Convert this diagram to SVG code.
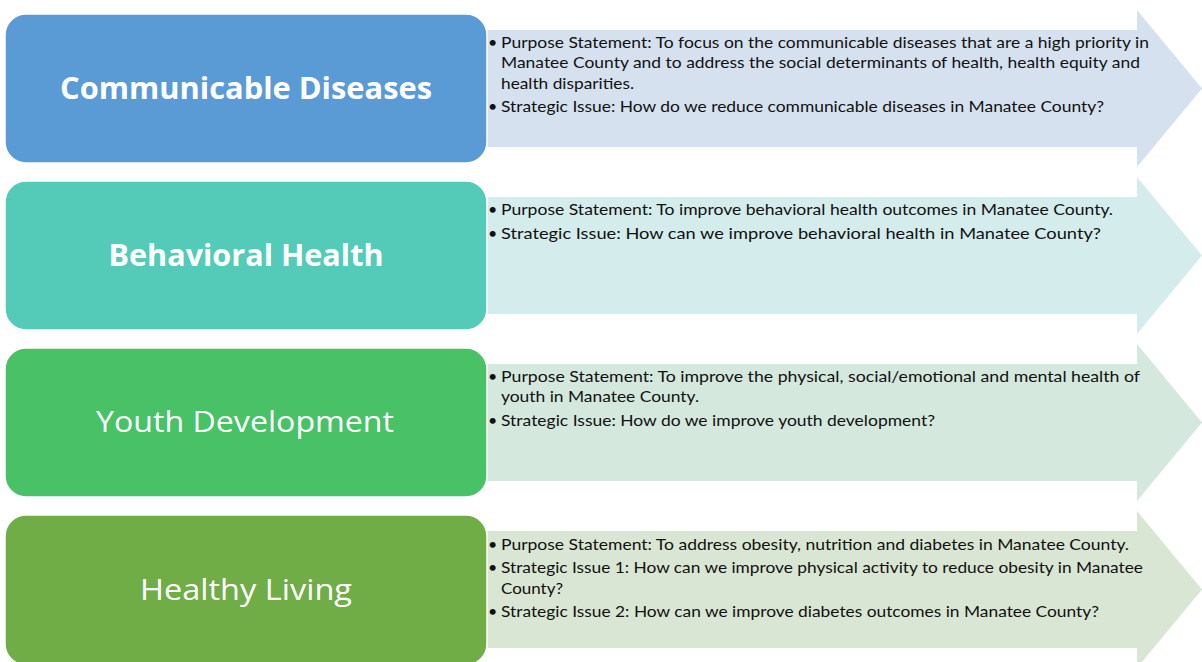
<svg xmlns="http://www.w3.org/2000/svg" width="1202" height="662" viewBox="0 0 1202 662">
<style>
.title{font-family:"Open Sans","Liberation Sans",sans-serif;font-size:30px;fill:#fff;text-anchor:middle}
.b{font-weight:bold}
.txt{font-family:Lato,"Liberation Sans",sans-serif;font-size:16px;fill:#111}
.box{stroke:#fff;stroke-width:1.5}
</style>
<rect width="1202" height="662" fill="#fff"/>
<g id="connectors">
<path d="M480 30 H1137 V10 L1202 88.5 L1137 167 V147 H480 Z" fill="#D6E1EF"/>
<path d="M480 197 H1137 V177 L1202 255.5 L1137 334 V314 H480 Z" fill="#D4ECEC"/>
<path d="M480 364 H1137 V344 L1202 422.5 L1137 501 V481 H480 Z" fill="#D5E8DE"/>
<path d="M480 531 H1137 V511 L1202 589.5 L1137 668 V648 H480 Z" fill="#DAE6D4"/>
</g>
<g id="node-communicable">
<rect class="box" x="5" y="14" width="482" height="149" rx="21" fill="#5B9BD5"/>
<text class="title b" x="246" y="99" textLength="372" lengthAdjust="spacingAndGlyphs">Communicable Diseases</text>
<text class="txt"><tspan x="488" y="48">•</tspan><tspan x="501" y="48" textLength="648" lengthAdjust="spacingAndGlyphs">Purpose Statement: To focus on the communicable diseases that are a high priority in</tspan></text>
<text class="txt" x="501" y="68" textLength="639" lengthAdjust="spacingAndGlyphs">Manatee County and to address the social determinants of health, health equity and</text>
<text class="txt" x="501" y="89" textLength="133" lengthAdjust="spacingAndGlyphs">health disparities.</text>
<text class="txt"><tspan x="488" y="112">•</tspan><tspan x="501" y="112" textLength="603" lengthAdjust="spacingAndGlyphs">Strategic Issue: How do we reduce communicable diseases in Manatee County?</tspan></text>
</g>
<g id="node-behavioral">
<rect class="box" x="5" y="181" width="482" height="149" rx="21" fill="#53CBB8"/>
<text class="title b" x="246" y="266" textLength="275" lengthAdjust="spacingAndGlyphs">Behavioral Health</text>
<text class="txt"><tspan x="488" y="215">•</tspan><tspan x="501" y="215" textLength="612" lengthAdjust="spacingAndGlyphs">Purpose Statement: To improve behavioral health outcomes in Manatee County.</tspan></text>
<text class="txt"><tspan x="488" y="239">•</tspan><tspan x="501" y="239" textLength="600" lengthAdjust="spacingAndGlyphs">Strategic Issue: How can we improve behavioral health in Manatee County?</tspan></text>
</g>
<g id="node-youth">
<rect class="box" x="5" y="348" width="482" height="149" rx="21" fill="#48C167"/>
<text class="title" x="245" y="432" textLength="298" lengthAdjust="spacingAndGlyphs">Youth Development</text>
<text class="txt"><tspan x="488" y="382">•</tspan><tspan x="501" y="382" textLength="639" lengthAdjust="spacingAndGlyphs">Purpose Statement: To improve the physical, social/emotional and mental  health of</tspan></text>
<text class="txt" x="501" y="402" textLength="198" lengthAdjust="spacingAndGlyphs">youth in Manatee County.</text>
<text class="txt"><tspan x="488" y="426">•</tspan><tspan x="501" y="426" textLength="434" lengthAdjust="spacingAndGlyphs">Strategic Issue: How do we improve youth development?</tspan></text>
</g>
<g id="node-healthy">
<rect class="box" x="5" y="515" width="482" height="150" rx="21" fill="#70AD47"/>
<text class="title" x="246" y="600" textLength="212" lengthAdjust="spacingAndGlyphs">Healthy Living</text>
<text class="txt"><tspan x="488" y="550">•</tspan><tspan x="501" y="550" textLength="628" lengthAdjust="spacingAndGlyphs">Purpose Statement: To address obesity, nutrition and diabetes in Manatee County.</tspan></text>
<text class="txt"><tspan x="488" y="573">•</tspan><tspan x="501" y="573" textLength="642" lengthAdjust="spacingAndGlyphs">Strategic Issue 1: How can we improve physical activity to reduce obesity in Manatee</tspan></text>
<text class="txt" x="501" y="594" textLength="62" lengthAdjust="spacingAndGlyphs">County?</text>
<text class="txt"><tspan x="488" y="617">•</tspan><tspan x="501" y="617" textLength="598" lengthAdjust="spacingAndGlyphs">Strategic Issue 2: How can we improve diabetes outcomes in Manatee County?</tspan></text>
</g>
</svg>
